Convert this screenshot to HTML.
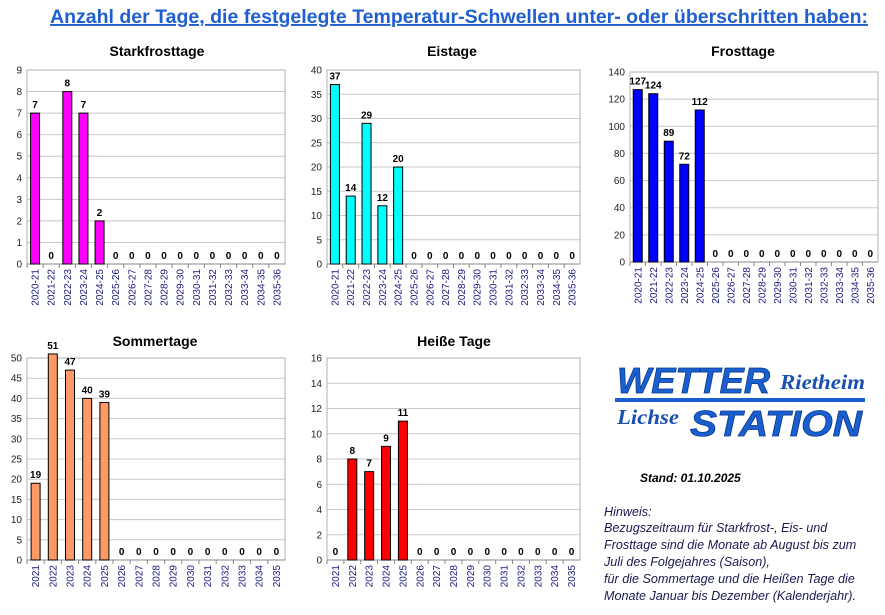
<!DOCTYPE html>
<html><head><meta charset="utf-8"><style>
body{margin:0;background:#fff;width:885px;height:610px;overflow:hidden;font-family:"Liberation Sans",sans-serif;}
</style></head><body>
<svg id="s" width="885" height="610" xmlns="http://www.w3.org/2000/svg" font-family="Liberation Sans, sans-serif">
<text x="50" y="23" textLength="818" lengthAdjust="spacingAndGlyphs" font-size="19" font-weight="bold" fill="#1f5fd0" text-decoration="underline">Anzahl der Tage, die festgelegte Temperatur-Schwellen unter- oder überschritten haben:</text>
<text x="157" y="56" text-anchor="middle" font-size="14" font-weight="bold">Starkfrosttage</text>
<text x="452" y="56" text-anchor="middle" font-size="14" font-weight="bold">Eistage</text>
<text x="743" y="56" text-anchor="middle" font-size="14" font-weight="bold">Frosttage</text>
<text x="155" y="346" text-anchor="middle" font-size="14" font-weight="bold">Sommertage</text>
<text x="454" y="346" text-anchor="middle" font-size="14" font-weight="bold">Heiße Tage</text>
<g font-style="italic" font-weight="bold" fill="#1a5fd0">
<text x="617" y="393" font-size="36" textLength="153" lengthAdjust="spacingAndGlyphs" fill="#1a5fd0" stroke="#0a3a90" stroke-width="0.8">WETTER</text>
<text x="780" y="389" font-size="21" textLength="85" lengthAdjust="spacingAndGlyphs" font-family="Liberation Serif, serif" fill="#1a50b0">Rietheim</text>
<rect x="615" y="398" width="250" height="4" fill="#1a5fd0"/>
<text x="617" y="424" font-size="21" textLength="62" lengthAdjust="spacingAndGlyphs" font-family="Liberation Serif, serif" fill="#1a50b0">Lichse</text>
<text x="690" y="436" font-size="36" textLength="172" lengthAdjust="spacingAndGlyphs" fill="#1a5fd0" stroke="#0a3a90" stroke-width="0.8">STATION</text>
</g>
<text x="640" y="482" font-size="12" font-weight="bold" font-style="italic">Stand: 01.10.2025</text>
<g font-size="12.6" font-style="italic" fill="#1a1a50">
<text x="604" y="516">Hinweis:</text>
<text x="604" y="532">Bezugszeitraum für Starkfrost-, Eis- und</text>
<text x="604" y="549">Frosttage sind die Monate ab August bis zum</text>
<text x="604" y="566">Juli des Folgejahres (Saison),</text>
<text x="604" y="583">für die Sommertage und die Heißen Tage die</text>
<text x="604" y="600">Monate Januar bis Dezember (Kalenderjahr).</text>
</g>
</svg>
<script>
var s=document.getElementById('s'),NS='http://www.w3.org/2000/svg';
function el(t,a,txt){var e=document.createElementNS(NS,t);for(var k in a)e.setAttribute(k,a[k]);if(txt!=null)e.textContent=txt;s.appendChild(e);return e;}
var seasons=[],years=[];
for(var y=2020;y<=2035;y++)seasons.push(y+'-'+String(y+1).slice(2));
for(var y=2021;y<=2035;y++)years.push(''+y);
function chart(x0,x1,y0,y1,max,step,vals,labs,col){
 var n=labs.length,cw=(x1-x0)/n,h=y1-y0;
 for(var v=0;v<=max;v+=step){var yy=y1-v/max*h;
  el('line',{x1:x0,x2:x1,y1:yy,y2:yy,stroke:'#c8c8c8','stroke-width':1});
  el('text',{x:x0-5,y:yy+3.5,'text-anchor':'end','font-size':10,fill:'#222'},v);}
 el('rect',{x:x0,y:y0,width:x1-x0,height:h,fill:'none',stroke:'#b0b0b0'});
 el('line',{x1:x0,x2:x1,y1:y1,y2:y1,stroke:'#888'});
 for(var i=0;i<n;i++){var cx=x0+cw*(i+0.5),v=vals[i]||0,bh=v/max*h;
  el('line',{x1:x0+cw*i,x2:x0+cw*i,y1:y1,y2:y1+4,stroke:'#888'});
  if(v>0)el('rect',{x:cx-4.5,y:y1-bh,width:9,height:bh,fill:col,stroke:'#000','stroke-width':1});
  el('text',{x:cx,y:y1-bh-5,'text-anchor':'middle','font-size':10,'font-weight':'bold'},v);
  el('text',{transform:'translate('+(cx+3.5)+','+(y1+5)+') rotate(-90)','text-anchor':'end','font-size':10,fill:'#1a1a80'},labs[i]);}
}
chart(27,285,70,264,9,1,[7,0,8,7,2],seasons,'#ff00ff');
chart(327,580,70,264,40,5,[37,14,29,12,20],seasons,'#00ffff');
chart(630,878,72,262,140,20,[127,124,89,72,112],seasons,'#0000ff');
chart(27,285,358,560,50,5,[19,51,47,40,39],years,'#ff9966');
chart(327,580,358,560,16,2,[0,8,7,9,11],years,'#ff0000');
</script>
</body></html>
